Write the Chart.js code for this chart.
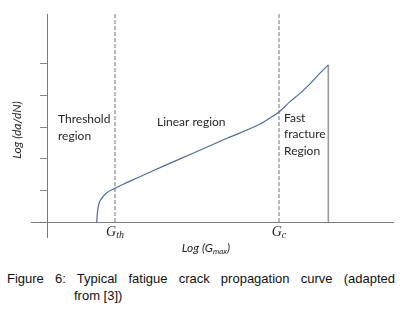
<!DOCTYPE html>
<html>
<head>
<meta charset="utf-8">
<script src="https://cdn.jsdelivr.net/npm/chart.js@4.4.0/dist/chart.umd.min.js"></script>
<style>
body { margin: 0; background: #fff; width: 403px; height: 311px; overflow: hidden; position: relative; }
#wrap { position: absolute; left: 0; top: 0; width: 403px; height: 260px; }
.cap { position: absolute; left: 7px; width: 388px; font: 13px "Liberation Sans", Arial, sans-serif; color: #111; line-height: 15px; }
#cap1 { top: 271px; text-align: justify; text-align-last: justify; }
#cap2 { top: 288px; left: 74px; width: 200px; }
</style>
</head>
<body>
<div id="wrap"><canvas id="curva"></canvas></div>
<div class="cap" id="cap1">Figure 6: Typical fatigue crack propagation curve (adapted</div>
<div class="cap" id="cap2">from [3])</div>
<script>
// curva de propagacao (unidades arbitrarias)
var curvaX = [4.97, 5.03, 5.2, 5.47, 5.97, 6.8, 7.63, 9.13, 11.7, 14.6, 18.0, 21.3, 22.3, 23.2, 24.3, 25.3, 26.3, 27.3, 28.13];
var curvaY = [0, 0.28, 0.59, 0.75, 0.93, 1.07, 1.20, 1.41, 1.78, 2.18, 2.65, 3.10, 3.29, 3.48, 3.81, 4.07, 4.37, 4.71, 4.97];
var gTh = 6.8;
var gC = 23.2;
var gFratura = 28.13;
var yTicks = [1, 2, 3, 4, 5];
var xMin = -1.6, xMax = 34.6, yMin = -0.47, yMax = 6.58;

var pontos = curvaX.map(function (x, i) { return { x: x, y: curvaY[i] }; });

function vertical(x, topo) {
    return [{ x: x, y: 0 }, { x: x, y: topo }];
}

// escreve texto com subscrito
function comSub(c, base, sub, fim, x, y, fBase, fSub) {
    c.font = fBase;
    var w1 = c.measureText(base).width;
    c.font = fSub;
    var w2 = c.measureText(sub).width;
    c.font = fBase;
    var w3 = fim ? c.measureText(fim).width : 0;
    var x0 = x - (w1 + w2 + w3) / 2;
    c.textAlign = 'left';
    c.fillText(base, x0, y);
    c.font = fSub;
    c.fillText(sub, x0 + w1, y + 3);
    if (fim) {
        c.font = fBase;
        c.fillText(fim, x0 + w1 + w2, y);
    }
}

var textos = {
    id: 'textos',
    afterDraw: function (chart) {
        var c = chart.ctx, xs = chart.scales.x, ys = chart.scales.y;
        var y0 = ys.getPixelForValue(0);
        c.save();
        c.fillStyle = '#262626';
        c.textBaseline = 'middle';
        c.textAlign = 'left';
        c.font = '12px Lato';
        c.fillText('Threshold', xs.getPixelForValue(1.1), ys.getPixelForValue(3.26));
        c.fillText('region', xs.getPixelForValue(1.1), ys.getPixelForValue(2.73));
        c.fillText('Linear region', xs.getPixelForValue(11.0), ys.getPixelForValue(3.17));
        c.fillText('Fast', xs.getPixelForValue(23.7), ys.getPixelForValue(3.29));
        c.fillText('fracture', xs.getPixelForValue(23.7), ys.getPixelForValue(2.77));
        c.fillText('Region', xs.getPixelForValue(23.7), ys.getPixelForValue(2.25));

        // G_th e G_c
        var fG = 'italic 14px "Liberation Serif"', fS = 'italic 10px "Liberation Serif"';
        comSub(c, 'G', 'th', '', xs.getPixelForValue(gTh), y0 + 10, fG, fS);
        comSub(c, 'G', 'c', '', xs.getPixelForValue(gC), y0 + 10, fG, fS);

        // titulos dos eixos
        comSub(c, 'Log (G', 'max', ')', 206, y0 + 26, 'italic 12px Lato', 'italic 8px Lato');
        c.translate(17, 130);
        c.rotate(-Math.PI / 2);
        c.textAlign = 'center';
        c.font = 'italic 12px Lato';
        c.fillText('Log (da/dN)', 0, 0);
        c.restore();
    }
};

var ctx = document.getElementById('curva').getContext('2d');
var grafico = new Chart(ctx, {
    type: 'scatter',
    data: {
        datasets: [{
            data: pontos,
            showLine: true,
            borderColor: '#4d6d9a',
            borderWidth: 1.2,
            pointRadius: 0,
            cubicInterpolationMode: 'monotone'
        }, {
            data: vertical(gFratura, curvaY[curvaY.length - 1]),
            showLine: true,
            borderColor: '#9a9a9a',
            borderWidth: 1.6,
            pointRadius: 0
        }, {
            data: vertical(gTh, yMax),
            showLine: true,
            borderColor: '#6e6e6e',
            borderWidth: 1,
            borderDash: [4, 2],
            pointRadius: 0
        }, {
            data: vertical(gC, yMax),
            showLine: true,
            borderColor: '#6e6e6e',
            borderWidth: 1,
            borderDash: [4, 2],
            pointRadius: 0
        }]
    },
    options: {
        responsive: true,
        maintainAspectRatio: false,
        animation: false,
        layout: { padding: { left: 31, top: 14, right: 10, bottom: 23 } },
        plugins: {
            legend: { display: false },
            tooltip: { enabled: false }
        },
        scales: {
            x: {
                type: 'linear',
                min: xMin,
                max: xMax,
                position: { y: 0 },
                ticks: { display: false },
                grid: { drawOnChartArea: false, drawTicks: false },
                border: { color: '#7a7a7a', width: 1 }
            },
            y: {
                type: 'linear',
                min: yMin,
                max: yMax,
                position: { x: 0 },
                afterBuildTicks: function (s) {
                    s.ticks = yTicks.map(function (v) { return { value: v }; });
                },
                ticks: { display: false },
                grid: { drawOnChartArea: false, drawTicks: true, tickLength: 7, color: '#8a8a8a' },
                border: { color: '#7a7a7a', width: 1 }
            }
        }
    },
    plugins: [textos]
});
</script>
</body>
</html>
